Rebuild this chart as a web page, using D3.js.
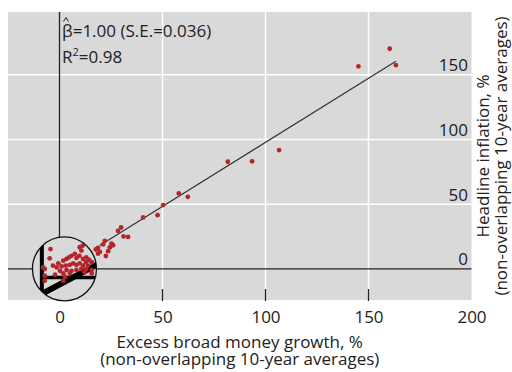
<!DOCTYPE html>
<html>
<head>
<meta charset="utf-8">
<script src="https://cdn.jsdelivr.net/npm/d3@7"></script>
<style>
  body { margin: 0; background: #fff; }
  svg text { font-family: "Open Sans", sans-serif; fill: #222; }
</style>
</head>
<body>
<svg id="chart" width="512" height="372"></svg>
<script>
// excess broad money growth (x) vs headline inflation (y), both in %
const outerX = [163.3, 160.3, 145.1, 106.6, 93.5, 81.7, 62.3, 57.9, 50.3, 47.6, 40.6, 33.3, 31.1, 29.9, 28.4, 25.2, 24.4, 23.6, 22.5, 22.0, 21.2, 19.6, 18.7, 18.7, 17.6, 26.0];
const outerY = [157.5, 170.1, 156.5, 91.8, 83.1, 82.8, 55.7, 58.3, 49.3, 41.5, 39.8, 24.7, 25.1, 32.0, 29.4, 19.6, 16.6, 13.7, 10.0, 21.7, 18.9, 13.1, 11.9, 16.2, 15.0, 18.3];

// points in the magnified circle (low money growth / low inflation)
const zoomX = [2.1, 1.9, 0.3, 0.7, 2.7, 4.0, 5.2, 6.0, 6.6, 7.2, 8.0, 8.4, 9.1, 9.2, 9.9, 9.6, 10.0, 10.8, 11.5, 10.7, 12.1, 11.2, 10.0, 9.2, 8.4, 7.6, 6.8, 5.8, 4.8, 3.6, 4.4, 6.0, 7.2, 8.4, 9.6, 10.8, 12.1, 5.2, 6.8, 10.4, 12.1, 0.7, 3.2, 5.6, 0.7, 5.2];
const zoomY = [11.0, 7.4, 3.9, 3.3, 4.6, 5.5, 6.5, 7.2, 7.8, 8.4, 9.1, 7.5, 8.4, 11.7, 12.3, 10.4, 7.2, 7.8, 6.8, 5.9, 5.9, 4.6, 4.6, 5.5, 4.9, 5.5, 4.9, 4.6, 4.3, 3.9, 2.6, 2.9, 2.6, 2.9, 3.3, 3.3, 2.9, 1.6, 1.6, 2.0, 1.6, 0.7, 1.1, 0.3, -1.2, -1.2];

const xTicks = [0, 50, 100, 150, 200];
const yTicks = [0, 50, 100, 150];
const gridVals = [50, 100, 150];

// fitted line
const beta = 0.99, alpha = -1.2;
const fitRange = [19.5, 163.3];
const zoomBeta = 0.84, zoomAlpha = -6.3;

const xTitle = ['Excess broad money growth, %', '(non-overlapping 10-year averages)'];
const yTitle = ['Headline inflation, %', '(non-overlapping 10-year averages)'];

const svg = d3.select('#chart');

const x = d3.scaleLinear().domain([-25, 200]).range([8, 471.5]);
const y = d3.scaleLinear().domain([-24, 198.5]).range([300, 12]);

const red = '#b5262c';
const grey = '#d9d9d9';
const fs = '17px';

// panel
svg.append('rect')
  .attr('x', x(-25)).attr('y', y(198.5))
  .attr('width', x(200) - x(-25))
  .attr('height', y(-24) - y(198.5))
  .attr('fill', grey);

// white grid
svg.append('g').selectAll('line')
  .data(gridVals).enter().append('line')
  .attr('x1', d => x(d)).attr('x2', d => x(d))
  .attr('y1', y(198.5)).attr('y2', y(-24))
  .attr('stroke', '#fff').attr('stroke-width', 1.5);

svg.append('g').selectAll('line')
  .data(gridVals).enter().append('line')
  .attr('x1', x(-25)).attr('x2', x(200))
  .attr('y1', d => y(d)).attr('y2', d => y(d))
  .attr('stroke', '#fff').attr('stroke-width', 1.5);

// zero lines
svg.append('line')
  .attr('x1', x(0)).attr('x2', x(0))
  .attr('y1', y(198.5)).attr('y2', y(-24))
  .attr('stroke', '#222').attr('stroke-width', 1.3);
svg.append('line')
  .attr('x1', x(-25)).attr('x2', x(200))
  .attr('y1', y(0)).attr('y2', y(0))
  .attr('stroke', '#222').attr('stroke-width', 1.3);

// x ticks (inside panel) + labels
const xAxis = svg.append('g')
  .attr('transform', 'translate(0,300)')
  .call(d3.axisBottom(x).tickValues(xTicks).tickSize(0));
xAxis.select('.domain').remove();
xAxis.selectAll('text')
  .attr('dy', null).attr('y', 23)
  .style('font-size', fs);

svg.append('g').selectAll('line')
  .data(xTicks.slice(0, 4)).enter().append('line')
  .attr('x1', d => x(d)).attr('x2', d => x(d))
  .attr('y1', 289).attr('y2', 301)
  .attr('stroke', '#222').attr('stroke-width', 1.3);

// y labels sit inside the panel on the right
const yAxis = svg.append('g')
  .attr('transform', 'translate(468,0)')
  .call(d3.axisLeft(y).tickValues(yTicks).tickSize(0).tickPadding(0));
yAxis.select('.domain').remove();
yAxis.selectAll('text')
  .attr('dy', -4)
  .style('font-size', fs);

// regression line
svg.append('line')
  .attr('x1', x(fitRange[0])).attr('y1', y(alpha + beta * fitRange[0]))
  .attr('x2', x(fitRange[1])).attr('y2', y(alpha + beta * fitRange[1]))
  .attr('stroke', '#333').attr('stroke-width', 1.2);

const pts = outerX.map((v, i) => ({ x: v, y: outerY[i] }));
svg.append('g').selectAll('circle')
  .data(pts).enter().append('circle')
  .attr('cx', d => x(d.x)).attr('cy', d => y(d.y))
  .attr('r', 2.4).attr('fill', red);

// magnifier
const cx = x(2.4), cy = y(0), r = 32;
svg.append('circle')
  .attr('cx', cx).attr('cy', cy).attr('r', r)
  .attr('fill', grey);

svg.append('clipPath').attr('id', 'lens')
  .append('circle').attr('cx', cx).attr('cy', cy).attr('r', r);

// 2x zoom of the low region
const zx = d3.scaleLinear().domain([0, 10]).range([cx - 22.6, cx - 22.6 + 41.2]);
const zy = d3.scaleLinear().domain([0, 10]).range([cy + 8.6, cy + 8.6 - 25.9]);

const lens = svg.append('g').attr('clip-path', 'url(#lens)');
lens.append('line')
  .attr('x1', zx(0)).attr('x2', zx(0))
  .attr('y1', cy - r).attr('y2', cy + r)
  .attr('stroke', '#000').attr('stroke-width', 4);
lens.append('line')
  .attr('x1', zx(0)).attr('x2', cx + r)
  .attr('y1', zy(0)).attr('y2', zy(0))
  .attr('stroke', '#000').attr('stroke-width', 3.5);
lens.append('line')
  .attr('x1', zx(-4)).attr('y1', zy(zoomAlpha + zoomBeta * -4))
  .attr('x2', zx(16)).attr('y2', zy(zoomAlpha + zoomBeta * 16))
  .attr('stroke', '#000').attr('stroke-width', 6);

const zpts = zoomX.map((v, i) => ({ x: v, y: zoomY[i] }));
lens.append('g').selectAll('circle')
  .data(zpts).enter().append('circle')
  .attr('cx', d => zx(d.x)).attr('cy', d => zy(d.y))
  .attr('r', 2.4).attr('fill', red);

svg.append('circle')
  .attr('cx', cx).attr('cy', cy).attr('r', r)
  .attr('fill', 'none').attr('stroke', '#111').attr('stroke-width', 1.3);

// annotation
const note = svg.append('g').style('font-size', fs);
note.append('text').attr('x', 62).attr('y', 37).text('β=1.00 (S.E.=0.036)');
// hat over beta
note.append('path')
  .attr('d', 'M63.5,21.5 L66,17.5 L68.5,21.5')
  .attr('fill', 'none').attr('stroke', '#222').attr('stroke-width', 1);
const r2 = note.append('text').attr('x', 62).attr('y', 63);
r2.append('tspan').text('R');
r2.append('tspan').attr('dy', -7).style('font-size', '11px').text('2');
r2.append('tspan').attr('dy', 7).text('=0.98');

// axis titles
svg.append('g').selectAll('text')
  .data(xTitle).enter().append('text')
  .attr('x', (x(-25) + x(200)) / 2)
  .attr('y', (d, i) => 347.5 + i * 17.5)
  .attr('text-anchor', 'middle')
  .style('font-size', fs)
  .text(d => d);

svg.append('g').selectAll('text')
  .data(yTitle).enter().append('text')
  .attr('transform', (d, i) => 'translate(' + (489 + i * 17.5) + ',156) rotate(-90)')
  .attr('text-anchor', 'middle')
  .style('font-size', fs)
  .text(d => d);
</script>
</body>
</html>
